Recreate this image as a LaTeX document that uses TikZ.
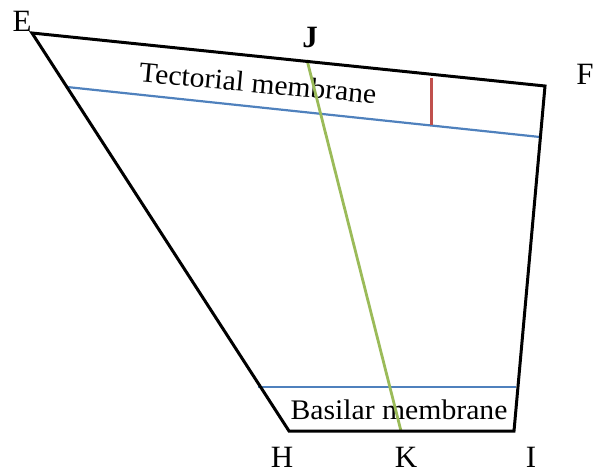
\documentclass[tikz,border=0pt]{standalone}
\usepackage{fontspec}
\setmainfont{Liberation Serif}
\definecolor{offblue}{HTML}{4F81BD}
\definecolor{offgreen}{HTML}{9BBB59}
\definecolor{offred}{HTML}{C0504D}
\begin{document}
\begin{tikzpicture}[x=1pt,y=-1pt,
  edge/.style={black,line width=3pt,line join=miter},
  memb/.style={offblue,line width=2.2pt},
  greenline/.style={offgreen,line width=2.8pt},
  redline/.style={offred,line width=3pt},
  lbl/.style={font=\fontsize{31}{31}\selectfont,inner sep=0pt},
  txt/.style={font=\fontsize{27}{27}\selectfont,inner sep=0pt}]
\useasboundingbox (0,0) rectangle (594,475);
\coordinate (E) at (32,33);
\coordinate (F) at (545,86);
\coordinate (I) at (514,431);
\coordinate (H) at (289,431);
\coordinate (J) at (307,60);
\coordinate (K) at (401,431);
\coordinate (T1) at (67,87);
\coordinate (T2) at (540,137);
\coordinate (B1) at (258,387);
\coordinate (B2) at (516,387);
\coordinate (R1) at (431,78);
\coordinate (R2) at (431,125);
% membranes
\draw[memb] (T1) -- (T2);
\draw[memb] (B1) -- (B2);
\draw[redline] (R1) -- (R2);
\node[txt,rotate=-5.3] (tect) at (258,83) {\scalebox{1.1}[1.05]{Tectorial membrane}};
\node[txt] (bas) at (399,410) {\scalebox{1.1}[1.05]{Basilar membrane}};
\draw[greenline] (J) -- (K);
\draw[edge] (E) -- (F) -- (I) -- (H) -- cycle;
% labels
\node[lbl] (lE) at (22,21) {E};
\node[lbl] (lJ) at (310,37) {\textbf{J}};
\node[lbl] (lF) at (585,74) {F};
\node[lbl] (lH) at (282,457) {H};
\node[lbl] (lK) at (406,457) {K};
\node[lbl] (lI) at (531,457) {I};
\end{tikzpicture}
\end{document}
